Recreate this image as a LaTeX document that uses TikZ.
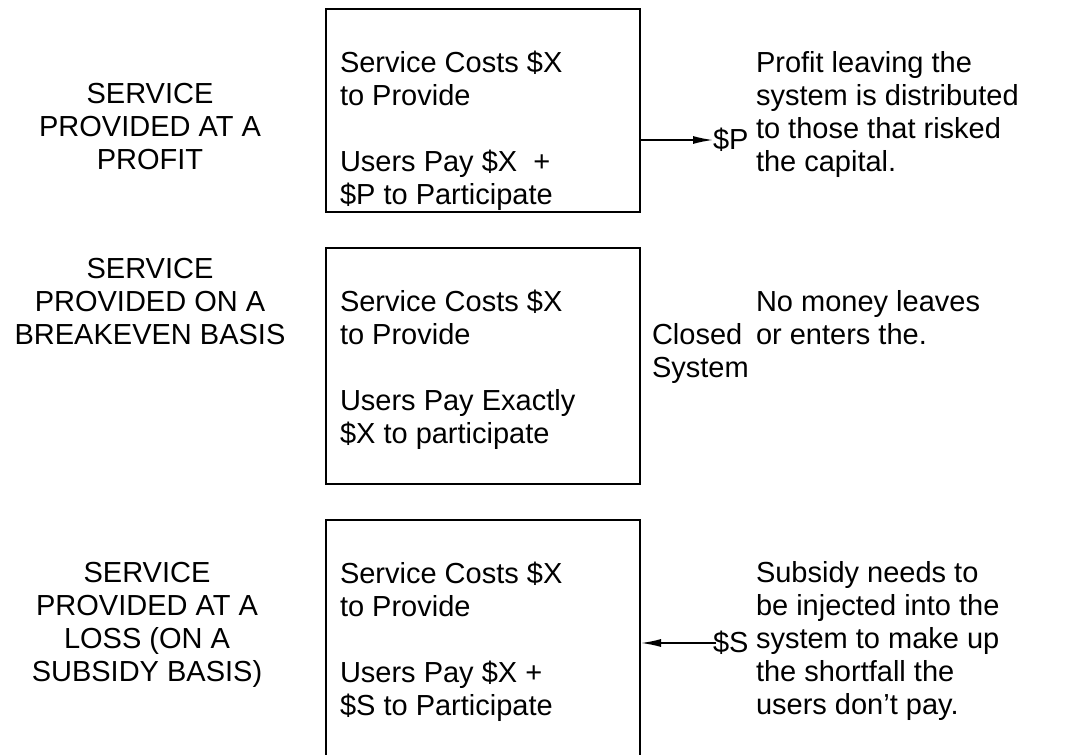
\documentclass[tikz,border=0pt]{standalone}
\usepackage{fontspec}
\setmainfont{Liberation Sans}
\usetikzlibrary{arrows.meta}
\newcommand\leftlines[1]{\vtop{\baselineskip=33pt\lineskiplimit=-100pt\halign{##\hfil\cr#1\crcr}}}
\newcommand\centerlines[1]{\vtop{\baselineskip=33pt\lineskiplimit=-100pt\halign{\hfil##\hfil\cr#1\crcr}}}
\tikzset{
  txt/.style={inner sep=0pt, outer sep=0pt, font=\fontsize{29}{33}\selectfont},
  lefttxt/.style={txt, anchor=base west},
  centertxt/.style={txt, anchor=base},
  boxnode/.style={draw, line width=2pt, minimum width=314pt, inner sep=0pt},
  arr/.style={line width=1.5pt, -{Latex[length=20pt,width=8pt]}}
}
\begin{document}
\begin{tikzpicture}[x=1pt,y=-1pt]
\clip (0,0) rectangle (1080,755);
\fill[white] (0,0) rectangle (1080,755);
% boxes
\node[boxnode, minimum height=203pt] (b1) at (483,110.5) {};
\node[boxnode, minimum height=236pt] (b2) at (483,366) {};
\node[boxnode, minimum height=250pt] (b3) at (483,645) {};
% row 1
\node[centertxt] (l1) at (150,103) {\centerlines{SERVICE\cr PROVIDED AT A\cr PROFIT}};
\node[lefttxt] (t1) at (340,72) {\leftlines{Service Costs \$X\cr to Provide\cr \cr Users Pay \$X\ \ +\cr \$P to Participate}};
\node[txt, anchor=west] (p) at (713,140) {\$P};
\node[lefttxt] (r1) at (756,72) {\leftlines{Profit leaving the\cr system is distributed\cr to those that risked\cr the capital.}};
\draw[arr] (b1.east |- p.west) -- (p.west);
% row 2
\node[centertxt] (l2) at (150,278) {\centerlines{SERVICE\cr PROVIDED ON A\cr BREAKEVEN BASIS}};
\node[lefttxt] (t2) at (340,311) {\leftlines{Service Costs \$X\cr to Provide\cr \cr Users Pay Exactly\cr \$X to participate}};
\node[lefttxt] (c2) at (652,344) {\leftlines{Closed\cr System}};
\node[lefttxt] (r2) at (756,311) {\leftlines{No money leaves\cr or enters the.}};
% row 3
\node[centertxt] (l3) at (147,582) {\centerlines{SERVICE\cr PROVIDED AT A\cr LOSS (ON A\cr SUBSIDY BASIS)}};
\node[lefttxt] (t3) at (340,583) {\leftlines{Service Costs \$X\cr to Provide\cr \cr Users Pay \$X +\cr \$S to Participate}};
\node[txt, anchor=west] (s) at (713,643) {\$S};
\node[lefttxt] (r3) at (756,582) {\leftlines{Subsidy needs to\cr be injected into the\cr system to make up\cr the shortfall the\cr users don’t pay.}};
\draw[arr] ([xshift=3pt]s.west) -- (s.west -| b3.east);
\end{tikzpicture}
\end{document}
